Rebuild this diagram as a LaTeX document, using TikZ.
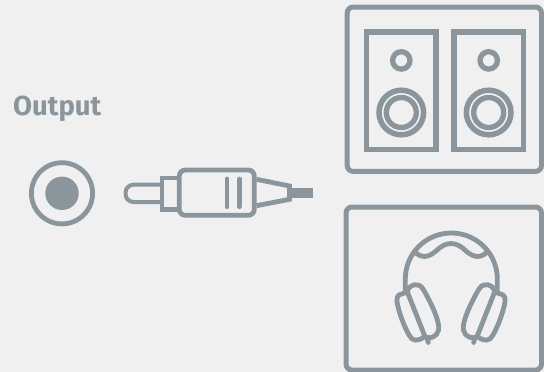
\documentclass[tikz,border=0pt]{standalone}
\usepackage{fontspec}
\setmainfont{Fira Sans}
\usetikzlibrary{positioning}
\definecolor{iconbg}{HTML}{F0F0F0}
\definecolor{icongray}{HTML}{8A969C}
\begin{document}
\begin{tikzpicture}[
  x=1pt, y=-1pt,
  stroke/.style={draw=icongray, line width=4.8pt},
  frame/.style={stroke, line width=5pt, rounded corners=6pt},
  label/.style={text=icongray, font=\fontsize{27.5}{30}\selectfont\bfseries, inner sep=0pt, anchor=base west},
]
  \fill[iconbg] (0,0) rectangle (544,372);
  \useasboundingbox (0,0) rectangle (544,372);

  % output jack
  \node[label] (output) at (13,115.5) {Output};
  \draw[stroke] (62,193.3) circle (30.6);
  \fill[icongray] (62,193.3) circle (16.7);

  % plug
  \draw[stroke, line width=4pt, rounded corners=8pt] (162,184.7) -- (125.5,184.7) -- (125.5,202) -- (162,202);
  \draw[stroke] (162,178) rectangle (179,209.5);
  \draw[stroke, rounded corners=6pt] (179.3,170) rectangle (254.3,215.3);
  \draw[stroke, line cap=round] (227,179) -- (227,206.7) (239.3,179) -- (239.3,206.7);
  \draw[stroke] (256.5,179.3) -- (289.5,186) -- (289.5,199.3) -- (256.5,205.7);
  \fill[icongray] (291,188) rectangle (312.7,198);

  % speakers
  \draw[frame] (347.2,7) rectangle (541.5,171.4);
  \foreach \sx in {401.3,488.7} {
    \draw[stroke, line width=5.4pt] (\sx-34.6,31.8) rectangle (\sx+34.6,149.4);
    \draw[stroke, line width=5.3pt] (\sx,60.4) circle (8.7);
    \draw[stroke, line width=5.5pt] (\sx,112.5) circle (22.3);
    \draw[stroke, line width=5.3pt] (\sx,112.5) circle (15);
  }

  % headphones
  \draw[frame] (346,207) rectangle (541.5,370);
  \draw[stroke, line cap=round] (405.3,290) -- (405.3,279) arc[start angle=180, end angle=360, radius=46] -- (497.3,290);
  \draw[stroke, line cap=round] (415,252) .. controls (422,259) and (429,257) .. (436,251) .. controls (446,241) and (456,241) .. (466,251) .. controls (473,257) and (480,259) .. (487,252);
  \foreach \mx in {1,-1} {
    \begin{scope}[shift={(451,0)}, xscale=\mx]
      \draw[stroke, line cap=round, line join=round] (-44,291) .. controls (-42,285) and (-33,281) .. (-28,289) .. controls (-22,299) and (-14,315) .. (-12.5,325) .. controls (-11,333) and (-16,338) .. (-23,338) .. controls (-24,338) and (-25,337.5) .. (-26,336.7) -- cycle;
      \draw[stroke, line cap=round, line join=round] (-45,292.5) -- (-51,294.5) .. controls (-54,295.5) and (-54.5,299) .. (-54,302) .. controls (-52,313) and (-47,326) .. (-42,335) .. controls (-39,341) and (-34,342) .. (-27,337);
      \draw[stroke, line cap=round] (-24,337) -- (-22.7,342.5);
    \end{scope}
  }
\end{tikzpicture}
\end{document}
